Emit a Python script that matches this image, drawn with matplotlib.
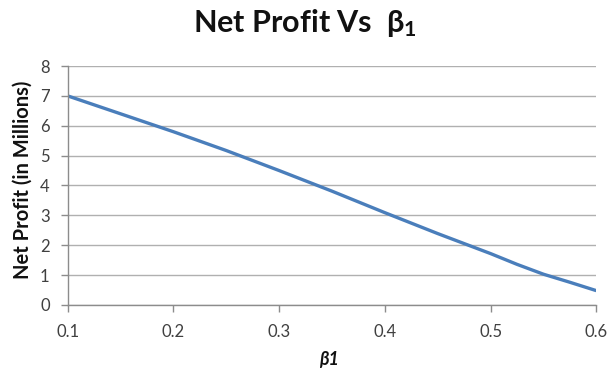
import matplotlib
matplotlib.use("Agg")
import matplotlib.pyplot as plt

# Net profit (millions) as a function of beta_1
beta1 = [0.10, 0.15, 0.20, 0.25, 0.30, 0.35, 0.40, 0.45, 0.50, 0.525, 0.55, 0.575, 0.60]
net_profit = [7.00, 6.40, 5.80, 5.17, 4.50, 3.81, 3.09, 2.39, 1.72, 1.36, 1.03, 0.76, 0.48]
x_ticks = [0.1, 0.2, 0.3, 0.4, 0.5, 0.6]
y_ticks = [0, 1, 2, 3, 4, 5, 6, 7, 8]

plt.rcParams['font.family'] = ['Lato', 'DejaVu Sans']
plt.rcParams['mathtext.fontset'] = 'custom'
plt.rcParams['mathtext.rm'] = 'Lato:bold'
plt.rcParams['mathtext.it'] = 'Lato:bold:italic'
plt.rcParams['mathtext.bf'] = 'Lato:bold'

fig = plt.figure(figsize=(6.16, 3.71), dpi=100)
ax = fig.add_axes([0.110, 0.178, 0.858, 0.644])

ax.plot(beta1, net_profit, color='#4a7ebb', linewidth=2.4,
        solid_capstyle='butt', solid_joinstyle='round')

ax.set_xlim(0.1, 0.6)
ax.set_ylim(0, 8)
ax.set_xticks(x_ticks)
ax.set_xticklabels([f"{t:.1f}" for t in x_ticks])
ax.set_yticks(y_ticks)

ax.yaxis.grid(True, color='#b0b0b0', linewidth=1.0)
ax.set_axisbelow(True)
for side in ('top', 'right'):
    ax.spines[side].set_visible(False)
for side in ('left', 'bottom'):
    ax.spines[side].set_color('#8c8c8c')
    ax.spines[side].set_linewidth(1.0)

ax.tick_params(axis='both', colors='#8c8c8c', labelcolor='#404040',
               labelsize=12, length=5, width=1.0, direction='out')
ax.tick_params(axis='x', pad=9)
ax.tick_params(axis='y', pad=8)

ax.set_ylabel('Net Profit (in Millions)', fontsize=14.5, fontweight='bold',
              color='#111111')
ax.yaxis.set_label_coords(-0.066, 0.523)
ax.set_xlabel('β1', fontsize=13, fontweight='bold', fontstyle='italic',
              color='#111111')
ax.xaxis.set_label_coords(0.494, -0.193)

fig.text(0.495, 0.914, r'Net Profit Vs  β$_{1}$', ha='center', va='baseline',
         fontsize=22, fontweight='bold', color='#111111')

fig.savefig('out.png', dpi=100, facecolor='white')
